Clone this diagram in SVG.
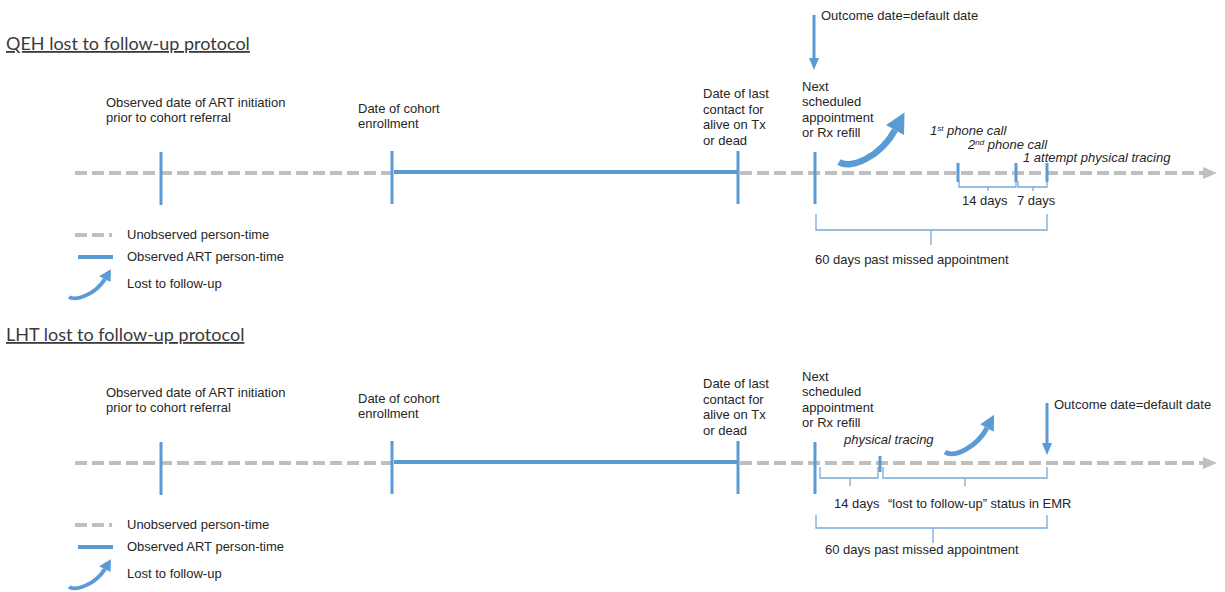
<svg xmlns="http://www.w3.org/2000/svg" width="1225" height="592" viewBox="0 0 1225 592">
<style>
  .t { font-family: "Liberation Sans", Arial, sans-serif; font-size: 13px; fill: #262626; }
  .it { font-style: italic; }
  .title { font-family: Lato, "Liberation Sans", sans-serif; font-size: 18px; fill: #3a3a3a; text-decoration: underline; }
  .dash { stroke: #BFBFBF; stroke-width: 4; stroke-dasharray: 12 5; fill: none; }
  .solid { stroke: #5B9BD5; stroke-width: 4; fill: none; }
  .tick { stroke: #5B9BD5; stroke-width: 3; fill: none; }
  .down { stroke: #5B9BD5; stroke-width: 3; fill: none; marker-end: url(#blueHead); }
  .brace { stroke: #7AA9D8; stroke-width: 1.3; fill: none; }
</style>
<defs>
  <marker id="blueHead" viewBox="0 0 12 10" refX="1" refY="5" markerWidth="12" markerHeight="10" markerUnits="userSpaceOnUse" orient="auto">
    <path d="M0,0 L12,5 L0,10 z" fill="#5B9BD5"/>
  </marker>
  <marker id="grayHead" viewBox="0 0 14 12" refX="1" refY="6" markerWidth="14" markerHeight="12" markerUnits="userSpaceOnUse" orient="auto">
    <path d="M0,0 L14,6 L0,12 z" fill="#BFBFBF"/>
  </marker>
  <g id="ltfuArrow">
    <path d="M0,0 C12,8 42,-6 56,-32" fill="none" stroke="#5B9BD5" stroke-width="6.5"/>
    <polygon points="65.5,-49.6 65,-27 47,-37" fill="#5B9BD5"/>
  </g>
</defs>

<!-- ================= TOP PANEL: QEH ================= -->
<g id="qeh-title">
  <text class="title" x="6" y="50">QEH lost to follow-up protocol</text>
</g>

<g id="qeh-connectors">
  <line class="dash" x1="75" y1="173" x2="392" y2="173"/>
  <line class="solid" x1="394" y1="172" x2="737" y2="172"/>
  <line class="dash" x1="740" y1="173" x2="1204" y2="173" marker-end="url(#grayHead)"/>
  <line class="down" x1="814" y1="15" x2="814" y2="59"/>
  <use href="#ltfuArrow" transform="translate(839,162)"/>
  <path class="brace" d="M959,181 V187 H1016 V181 M988,187 V191"/>
  <path class="brace" d="M1018,181 V187 H1047 V181 M1033,187 V191"/>
  <path class="brace" d="M816,214 V230 H1047 V214 M931,230 V245"/>
</g>

<g id="qeh-art-initiation">
  <line class="tick" x1="161" y1="152" x2="161" y2="205"/>
  <text class="t" x="106" y="107">Observed date of ART  initiation</text>
  <text class="t" x="106" y="122">prior to cohort referral</text>
</g>
<g id="qeh-enrollment">
  <line class="tick" x1="392" y1="151" x2="392" y2="204"/>
  <text class="t" x="358" y="113">Date of cohort</text>
  <text class="t" x="358" y="128">enrollment</text>
</g>
<g id="qeh-last-contact">
  <line class="tick" x1="738" y1="151" x2="738" y2="204"/>
  <text class="t" x="703" y="98">Date of last</text>
  <text class="t" x="703" y="114">contact for</text>
  <text class="t" x="703" y="129">alive on Tx</text>
  <text class="t" x="703" y="145">or dead</text>
</g>
<g id="qeh-next-appointment">
  <line class="tick" x1="815" y1="152" x2="815" y2="204"/>
  <text class="t" x="802" y="91">Next</text>
  <text class="t" x="802" y="106">scheduled</text>
  <text class="t" x="802" y="122">appointment</text>
  <text class="t" x="802" y="137">or Rx refill</text>
</g>
<g id="qeh-outcome">
  <text class="t" x="821" y="20">Outcome date=default date</text>
</g>
<g id="qeh-phone1">
  <line class="tick" x1="958" y1="163" x2="958" y2="182"/>
  <text class="t it" x="930" y="135">1<tspan font-size="8" dy="-4">st</tspan><tspan dy="4"> phone call</tspan></text>
</g>
<g id="qeh-phone2">
  <line class="tick" x1="1016" y1="163" x2="1016" y2="182"/>
  <text class="t it" x="968" y="149">2<tspan font-size="8" dy="-4">nd</tspan><tspan dy="4"> phone call</tspan></text>
</g>
<g id="qeh-tracing">
  <line class="tick" x1="1047" y1="163" x2="1047" y2="182"/>
  <text class="t it" x="1023" y="162">1 attempt physical tracing</text>
</g>
<g id="qeh-intervals">
  <text class="t" x="962" y="205">14 days</text>
  <text class="t" x="1017" y="205">7 days</text>
  <text class="t" x="815" y="264">60 days past missed appointment</text>
</g>
<g id="qeh-legend">
  <line class="dash" x1="75" y1="235" x2="112" y2="235"/>
  <text class="t" x="127" y="239">Unobserved person-time</text>
  <line class="solid" x1="78" y1="257" x2="113" y2="257"/>
  <text class="t" x="127" y="261">Observed ART  person-time</text>
  <use href="#ltfuArrow" transform="translate(69,297) scale(0.64,0.56)"/>
  <text class="t" x="127" y="288">Lost to follow-up</text>
</g>

<!-- ================= BOTTOM PANEL: LHT ================= -->
<g id="lht-title">
  <text class="title" x="6" y="341">LHT lost to follow-up protocol</text>
</g>

<g id="lht-connectors">
  <line class="dash" x1="75" y1="463" x2="392" y2="463"/>
  <line class="solid" x1="394" y1="462" x2="737" y2="462"/>
  <line class="dash" x1="740" y1="463" x2="1204" y2="463" marker-end="url(#grayHead)"/>
  <line class="down" x1="1047" y1="403" x2="1047" y2="444"/>
  <use href="#ltfuArrow" transform="translate(945,452) scale(0.75)"/>
  <path class="brace" d="M820,467 V478 H878 V467 M850,478 V486"/>
  <path class="brace" d="M883,467 V478 H1047 V467 M965,478 V486"/>
  <path class="brace" d="M816,515 V528 H1047 V515 M933,528 V543"/>
</g>

<g id="lht-art-initiation">
  <line class="tick" x1="161" y1="442" x2="161" y2="495"/>
  <text class="t" x="106" y="397">Observed date of ART  initiation</text>
  <text class="t" x="106" y="412">prior to cohort referral</text>
</g>
<g id="lht-enrollment">
  <line class="tick" x1="392" y1="441" x2="392" y2="494"/>
  <text class="t" x="358" y="403">Date of cohort</text>
  <text class="t" x="358" y="418">enrollment</text>
</g>
<g id="lht-last-contact">
  <line class="tick" x1="738" y1="441" x2="738" y2="494"/>
  <text class="t" x="703" y="388">Date of last</text>
  <text class="t" x="703" y="404">contact for</text>
  <text class="t" x="703" y="419">alive on Tx</text>
  <text class="t" x="703" y="435">or dead</text>
</g>
<g id="lht-next-appointment">
  <line class="tick" x1="815" y1="442" x2="815" y2="494"/>
  <text class="t" x="802" y="381">Next</text>
  <text class="t" x="802" y="396">scheduled</text>
  <text class="t" x="802" y="412">appointment</text>
  <text class="t" x="802" y="427">or Rx refill</text>
</g>
<g id="lht-tracing">
  <line class="tick" x1="880" y1="456" x2="880" y2="472"/>
  <text class="t it" x="844" y="444">physical tracing</text>
</g>
<g id="lht-outcome">
  <text class="t" x="1054" y="409">Outcome date=default date</text>
</g>
<g id="lht-intervals">
  <text class="t" x="834" y="508">14 days</text>
  <text class="t" x="888" y="508">“lost to follow-up” status in EMR</text>
  <text class="t" x="825" y="554">60 days past missed appointment</text>
</g>
<g id="lht-legend">
  <line class="dash" x1="75" y1="525" x2="112" y2="525"/>
  <text class="t" x="127" y="529">Unobserved person-time</text>
  <line class="solid" x1="78" y1="547" x2="113" y2="547"/>
  <text class="t" x="127" y="551">Observed ART  person-time</text>
  <use href="#ltfuArrow" transform="translate(69,587) scale(0.64,0.56)"/>
  <text class="t" x="127" y="578">Lost to follow-up</text>
</g>
</svg>
